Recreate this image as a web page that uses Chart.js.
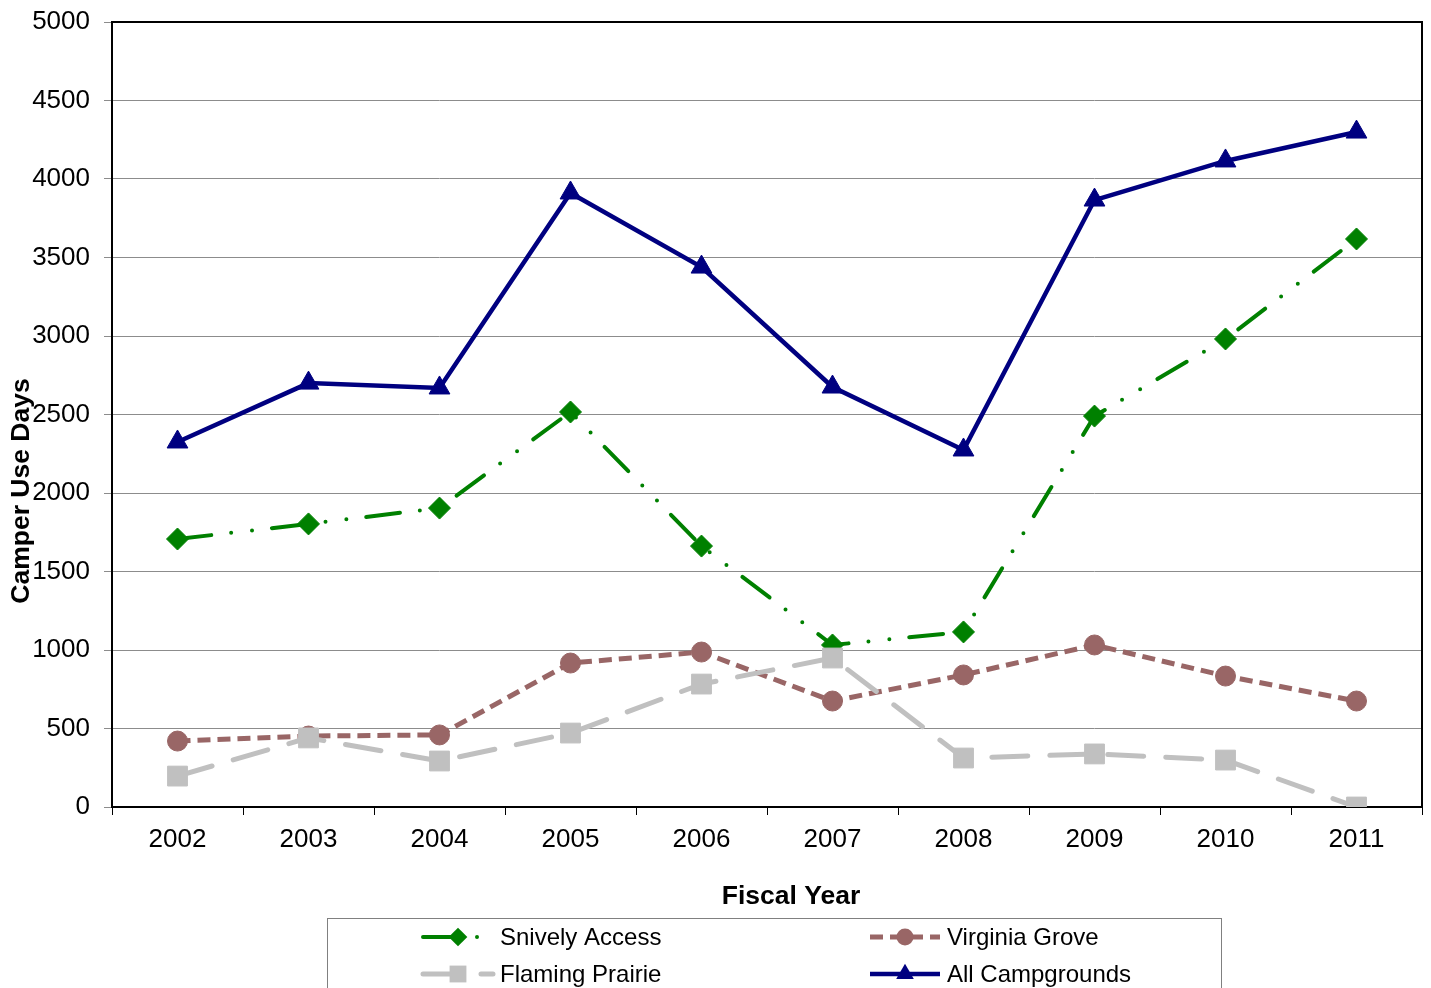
<!DOCTYPE html>
<html>
<head>
<meta charset="utf-8">
<script src="https://cdn.jsdelivr.net/npm/chart.js@4.4.1/dist/chart.umd.min.js"></script>
<style>
html,body{margin:0;padding:0;background:#fff;overflow:hidden;}
#wrap{width:1431px;height:988px;}
</style>
</head>
<body>
<div id="wrap"><canvas id="c" width="1431" height="988"></canvas></div>
<script>
const years = ["2002","2003","2004","2005","2006","2007","2008","2009","2010","2011"];
const snivelyAccess = [1707,1803,1904,2516,1662,1032,1115,2490,2981,3618];
const virginiaGrove = [420,452,459,917,987,675,841,1032,834,675];
const flamingPrairie = [197,440,293,471,783,949,312,338,299,0];
const allCampgrounds = [2325,2700,2669,3911,3439,2675,2274,3866,4115,4299];
const yTicks = [0,500,1000,1500,2000,2500,3000,3500,4000,4500,5000];
const yTitle = "Camper Use Days";
const xTitle = "Fiscal Year";

const FONT = '"Liberation Sans", Arial, sans-serif';

const series = [
  {label:"Snively Access", data:snivelyAccess, color:"#008000", dash:[34,20,0,21,0,20], cap:"round", width:4, style:"rectRot", r:11, order:3},
  {label:"Virginia Grove", data:virginiaGrove, color:"#996666", dash:[13,7], cap:"butt", width:5, style:"circle", r:10, order:2},
  {label:"Flaming Prairie", data:flamingPrairie, color:"#C0C0C0", dash:[36,22], cap:"round", width:5, style:"rect", r:14, order:1},
  {label:"All Campgrounds", data:allCampgrounds, color:"#000080", dash:[], cap:"butt", width:4.5, style:"triangle", r:12, order:0}
];

function drawMarker(ctx, style, x, y, r, color){
  ctx.save();
  ctx.fillStyle = color;
  ctx.setLineDash([]);
  ctx.beginPath();
  if(style==="circle"){ ctx.arc(x,y,r,0,Math.PI*2); }
  else if(style==="rect"){ const s=Math.SQRT1_2*r; ctx.rect(x-s,y-s,2*s,2*s); }
  else if(style==="rectRot"){ ctx.moveTo(x-r,y); ctx.lineTo(x,y-r); ctx.lineTo(x+r,y); ctx.lineTo(x,y+r); ctx.closePath(); }
  else if(style==="triangle"){ ctx.moveTo(x, y - r); ctx.lineTo(x + r*Math.sin(Math.PI/3), y + r*0.5); ctx.lineTo(x - r*Math.sin(Math.PI/3), y + r*0.5); ctx.closePath(); }
  ctx.fill();
  ctx.restore();
}

const framePlugin = {
  id:'frame',
  beforeDatasetsDraw(chart){
    const {ctx, chartArea:a} = chart;
    ctx.save();
    ctx.strokeStyle = '#000';
    ctx.lineWidth = 2;
    ctx.setLineDash([]);
    ctx.strokeRect(a.left, a.top, a.right - a.left, a.bottom - a.top);
    ctx.restore();
  },
  afterDraw(chart){
    const ctx = chart.ctx;
    ctx.save();
    ctx.fillStyle = '#000';
    ctx.font = 'bold 26.5px ' + FONT;
    ctx.textAlign = 'center';
    ctx.textBaseline = 'middle';
    ctx.fillText(xTitle, 791, 897);
    ctx.save();
    ctx.translate(22, 491);
    ctx.rotate(-Math.PI/2);
    ctx.fillText(yTitle, 0, 0);
    ctx.restore();
    ctx.strokeStyle = '#808080';
    ctx.lineWidth = 1;
    ctx.strokeRect(327.5, 918.5, 894, 80);
    const pos = [[423,937],[870,937],[423,974],[870,974]];
    series.forEach((s,i)=>{
      const [lx,ly] = pos[i];
      ctx.save();
      ctx.strokeStyle = s.color;
      ctx.lineWidth = s.width;
      ctx.lineCap = s.cap;
      ctx.setLineDash(s.dash);
      ctx.beginPath();
      ctx.moveTo(lx, ly);
      ctx.lineTo(lx+70, ly);
      ctx.stroke();
      ctx.restore();
      drawMarker(ctx, s.style, lx+35, ly, s.r*0.85, s.color);
      ctx.fillStyle = '#000';
      ctx.font = '24px ' + FONT;
      ctx.textAlign = 'left';
      ctx.textBaseline = 'middle';
      ctx.fillText(s.label, lx+77, ly+1);
    });
    ctx.restore();
  }
};

const datasets = series.map(s=>({
  label:s.label,
  data:s.data,
  borderColor:s.color,
  backgroundColor:s.color,
  borderWidth:s.width,
  borderDash:s.dash,
  borderCapStyle:s.cap,
  tension:0,
  fill:false,
  pointStyle:s.style,
  pointRadius:s.r,
  pointHoverRadius:s.r,
  pointBorderWidth:1,
  pointBorderColor:s.color,
  pointBackgroundColor:s.color,
  order:s.order
}));

new Chart(document.getElementById('c'), {
  type:'line',
  data:{labels:years, datasets},
  options:{
    responsive:false,
    animation:false,
    devicePixelRatio:1,
    layout:{autoPadding:false, padding:{left:0,right:9,top:22,bottom:0}},
    plugins:{legend:{display:false}, tooltip:{enabled:false}, title:{display:false}},
    scales:{
      x:{
        type:'category',
        offset:true,
        grid:{display:true, drawOnChartArea:false, offset:true, tickLength:8, color:'#000', lineWidth:1},
        border:{display:false},
        ticks:{color:'#000', font:{family:FONT, size:26}, padding:9, maxRotation:0, autoSkip:false},
        afterFit(scale){ scale.height = 181; scale.paddingLeft = 0; scale.paddingRight = 0; }
      },
      y:{
        min:0, max:5000,
        afterBuildTicks(scale){ scale.ticks = yTicks.map(v=>({value:v})); },
        grid:{color:'#8c8c8c', lineWidth:1, tickLength:8, drawTicks:true},
        border:{display:false},
        ticks:{color:'#000', font:{family:FONT, size:26}, padding:14, callback:(v)=>String(v)},
        afterFit(scale){ scale.width = 112; scale.paddingTop = 0; scale.paddingBottom = 0; }
      }
    }
  },
  plugins:[framePlugin]
});
</script>
</body>
</html>
